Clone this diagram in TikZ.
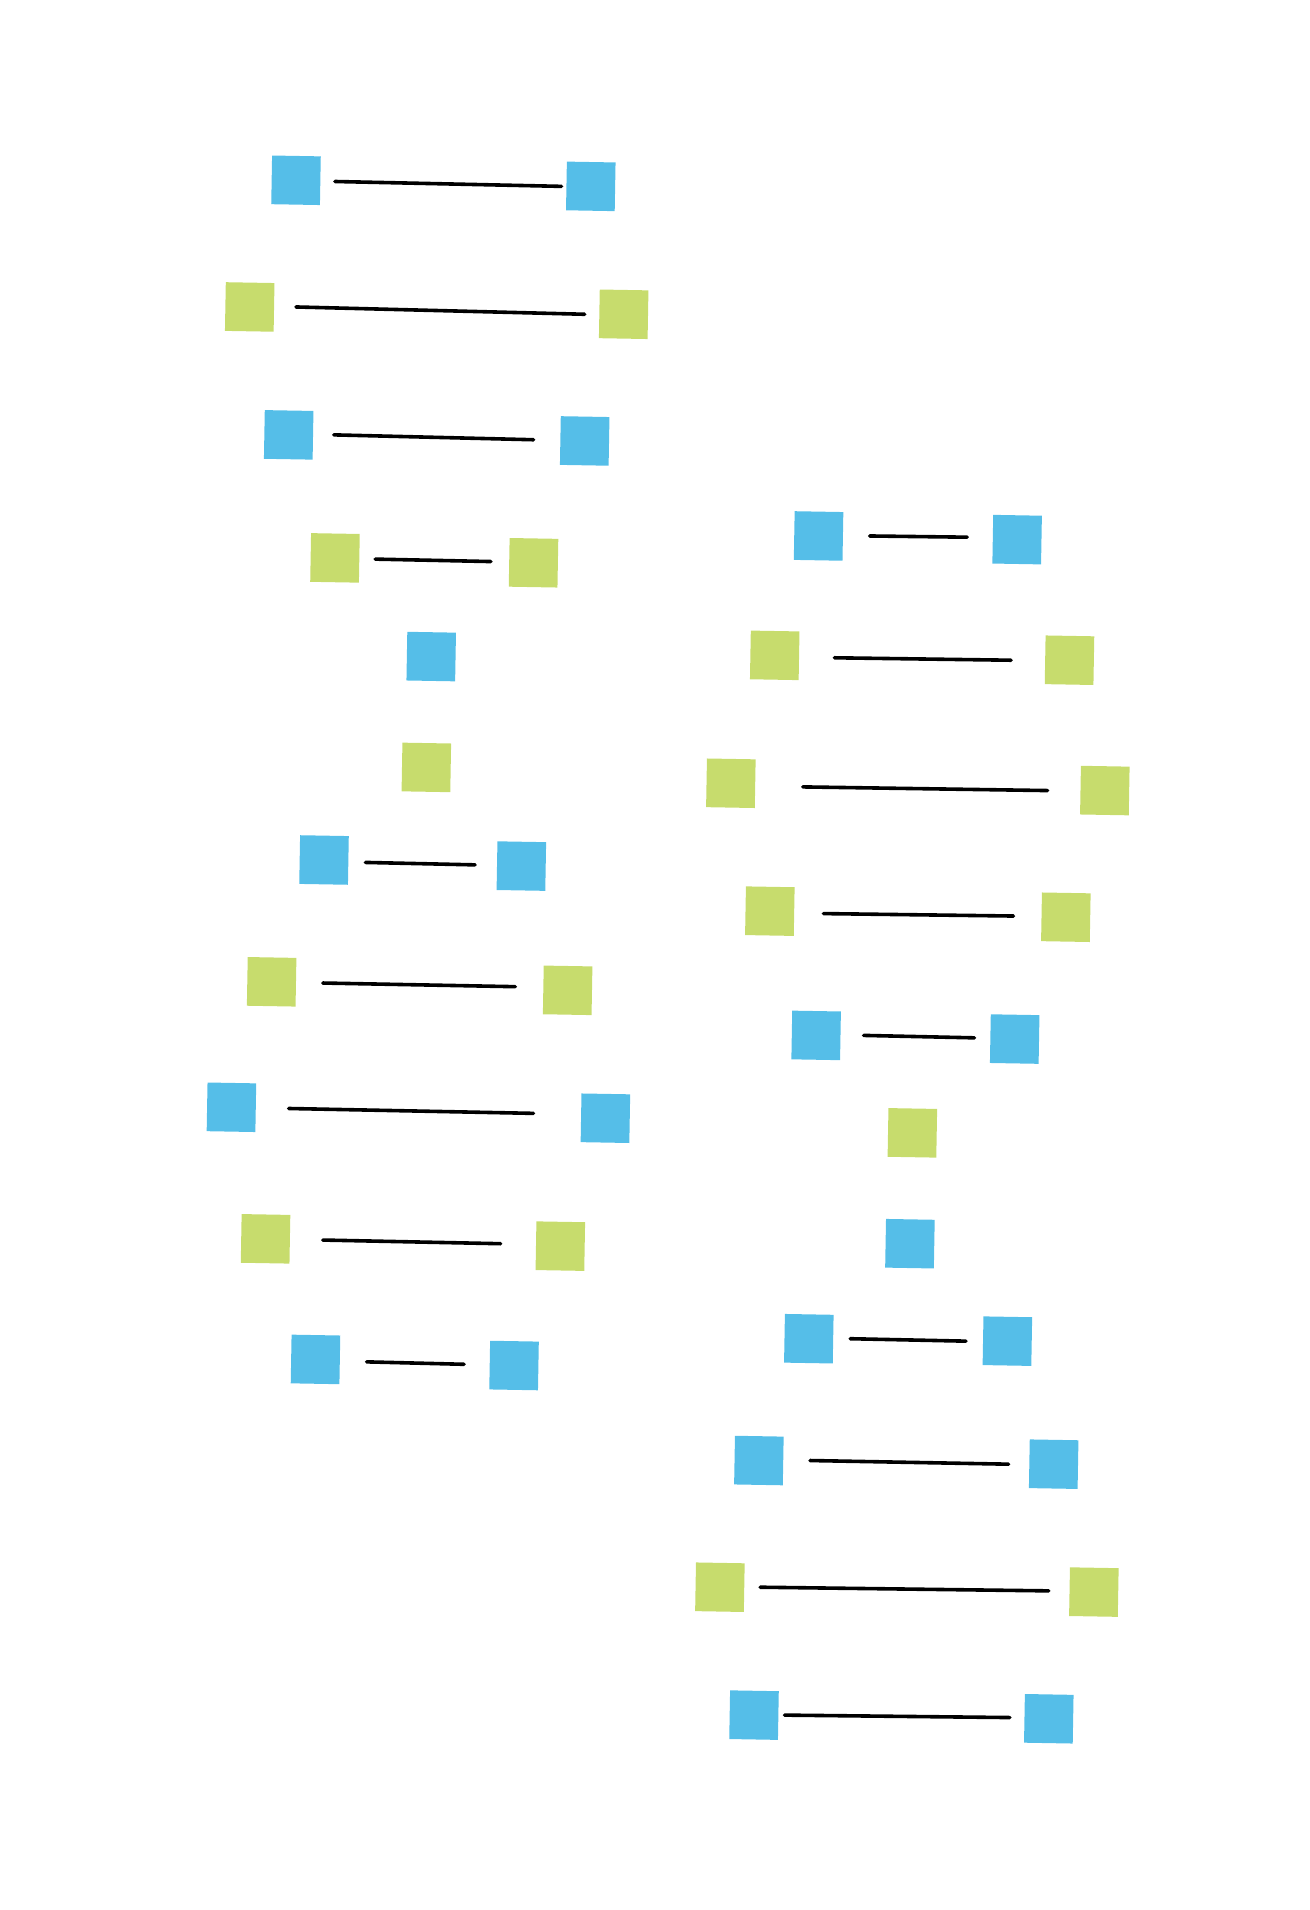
\documentclass[tikz,border=0pt]{standalone}
\definecolor{sqblue}{HTML}{55BEE8}
\definecolor{sqgreen}{HTML}{C7DC6D}
\begin{document}
\begin{tikzpicture}[x=1.2186pt,y=-1.2186pt,
  sq/.style={minimum size=48.7pt,inner sep=0pt,outer sep=0pt,rotate=-1,draw=none},
  bsq/.style={sq,fill=sqblue},
  gsq/.style={sq,fill=sqgreen},
  bar/.style={line width=3.6pt,line cap=round,black}]
\useasboundingbox (0,0) rectangle (1075,1568);
% left column
\node[bsq] (a1) at (243,148) {}; \node[bsq] (b1) at (485,153) {};
\coordinate (s1) at (275,149); \coordinate (e1) at (461,153); \draw[bar] (s1) -- (e1);
\node[gsq] (a2) at (205,252) {}; \node[gsq] (b2) at (512,258) {};
\coordinate (s2) at (243,252); \coordinate (e2) at (480,258); \draw[bar] (s2) -- (e2);
\node[bsq] (a3) at (237,357) {}; \node[bsq] (b3) at (480,362) {};
\coordinate (s3) at (274,357); \coordinate (e3) at (438,361); \draw[bar] (s3) -- (e3);
\node[gsq] (a4) at (275,458) {}; \node[gsq] (b4) at (438,462) {};
\coordinate (s4) at (308,459); \coordinate (e4) at (403,461); \draw[bar] (s4) -- (e4);
\node[bsq] (a5) at (354,539) {};
\node[gsq] (a6) at (350,630) {};
\node[bsq] (a7) at (266,706) {}; \node[bsq] (b7) at (428,711) {};
\coordinate (s7) at (300,708); \coordinate (e7) at (390,710); \draw[bar] (s7) -- (e7);
\node[gsq] (a8) at (223,806) {}; \node[gsq] (b8) at (466,813) {};
\coordinate (s8) at (265,807); \coordinate (e8) at (423,810); \draw[bar] (s8) -- (e8);
\node[bsq] (a9) at (190,909) {}; \node[bsq] (b9) at (497,918) {};
\coordinate (s9) at (237,910); \coordinate (e9) at (438,914); \draw[bar] (s9) -- (e9);
\node[gsq] (a10) at (218,1017) {}; \node[gsq] (b10) at (460,1023) {};
\coordinate (s10) at (265,1018); \coordinate (e10) at (411,1021); \draw[bar] (s10) -- (e10);
\node[bsq] (a11) at (259,1116) {}; \node[bsq] (b11) at (422,1121) {};
\coordinate (s11) at (301,1118); \coordinate (e11) at (381,1120); \draw[bar] (s11) -- (e11);
% right column
\node[bsq] (c1) at (672,440) {}; \node[bsq] (d1) at (835,443) {};
\coordinate (t1) at (714,440); \coordinate (f1) at (794,441); \draw[bar] (t1) -- (f1);
\node[gsq] (c2) at (636,538) {}; \node[gsq] (d2) at (878,542) {};
\coordinate (t2) at (685,540); \coordinate (f2) at (830,542); \draw[bar] (t2) -- (f2);
\node[gsq] (c3) at (600,643) {}; \node[gsq] (d3) at (907,649) {};
\coordinate (t3) at (659,646); \coordinate (f3) at (860,649); \draw[bar] (t3) -- (f3);
\node[gsq] (c4) at (632,748) {}; \node[gsq] (d4) at (875,753) {};
\coordinate (t4) at (676,750); \coordinate (f4) at (832,752); \draw[bar] (t4) -- (f4);
\node[bsq] (c5) at (670,850) {}; \node[bsq] (d5) at (833,853) {};
\coordinate (t5) at (709,850); \coordinate (f5) at (800,852); \draw[bar] (t5) -- (f5);
\node[gsq] (c6) at (749,930) {};
\node[bsq] (c7) at (747,1021) {};
\node[bsq] (c8) at (664,1099) {}; \node[bsq] (d8) at (827,1101) {};
\coordinate (t8) at (698,1099); \coordinate (f8) at (793,1101); \draw[bar] (t8) -- (f8);
\node[bsq] (c9) at (623,1199) {}; \node[bsq] (d9) at (865,1202) {};
\coordinate (t9) at (665,1199); \coordinate (f9) at (828,1202); \draw[bar] (t9) -- (f9);
\node[gsq] (c10) at (591,1303) {}; \node[gsq] (d10) at (898,1307) {};
\coordinate (t10) at (624,1303); \coordinate (f10) at (861,1306); \draw[bar] (t10) -- (f10);
\node[bsq] (c11) at (619,1408) {}; \node[bsq] (d11) at (861,1411) {};
\coordinate (t11) at (644,1408); \coordinate (f11) at (829,1410); \draw[bar] (t11) -- (f11);
\end{tikzpicture}
\end{document}
